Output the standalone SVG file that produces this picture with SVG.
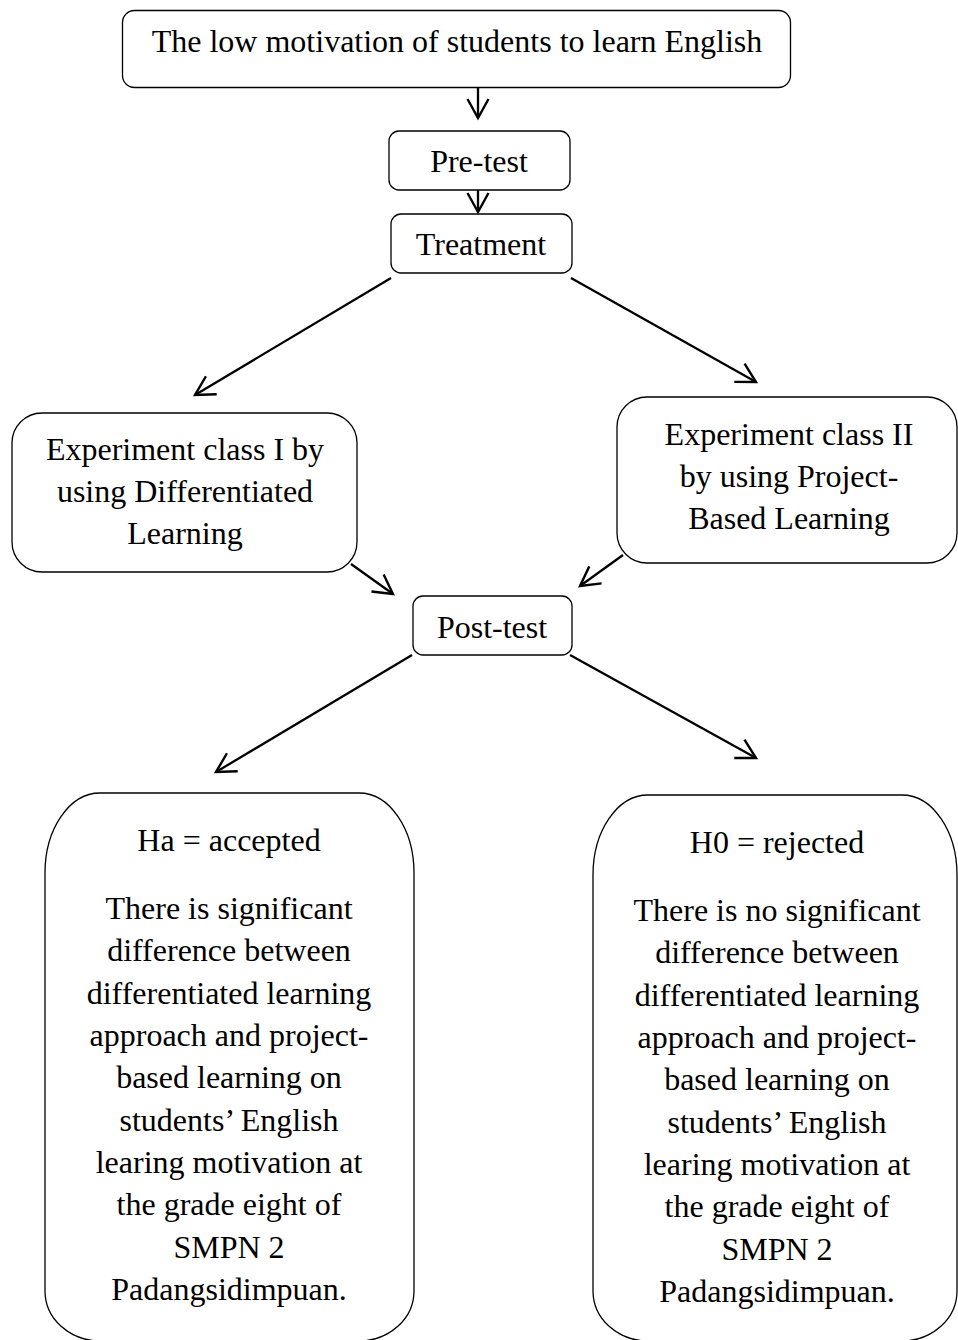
<svg xmlns="http://www.w3.org/2000/svg" width="958" height="1340" viewBox="0 0 958 1340">
<defs>
<style>
.box{fill:#fff;stroke:#000;stroke-width:1.3}
.t{font-family:"Liberation Serif","Times New Roman",serif;font-size:32px;fill:#000;text-anchor:middle}
.c{stroke:#000;stroke-width:2.3;fill:none}
</style>
<marker id="ah" markerUnits="userSpaceOnUse" viewBox="-24 -14 28 28" refX="0" refY="0" markerWidth="28" markerHeight="28" orient="auto">
<path d="M-19,-10.5 L0,0 L-19,10.5" fill="none" stroke="#000" stroke-width="2.4"/>
</marker>
</defs>
<rect width="958" height="1340" fill="#fff"/>
<g id="connectors">
<line class="c" x1="478" y1="87" x2="478" y2="118" marker-end="url(#ah)"/>
<line class="c" x1="478" y1="190" x2="478" y2="212" marker-end="url(#ah)"/>
<line class="c" x1="391" y1="278" x2="195" y2="395" marker-end="url(#ah)"/>
<line class="c" x1="571" y1="278" x2="756" y2="382" marker-end="url(#ah)"/>
<line class="c" x1="351" y1="564" x2="393" y2="594" marker-end="url(#ah)"/>
<line class="c" x1="623" y1="555" x2="580" y2="586" marker-end="url(#ah)"/>
<line class="c" x1="412" y1="655" x2="216" y2="772" marker-end="url(#ah)"/>
<line class="c" x1="570" y1="655" x2="756" y2="758" marker-end="url(#ah)"/>
</g>
<g id="problem">
<rect class="box" x="122.5" y="10.5" width="668" height="77" rx="12"/>
<text class="t" x="457" y="52">The low motivation of students to learn English</text>
</g>
<g id="pretest">
<rect class="box" x="389" y="131" width="181" height="59" rx="10"/>
<text class="t" x="479" y="172">Pre-test</text>
</g>
<g id="treatment">
<rect class="box" x="391" y="214" width="181" height="59" rx="10"/>
<text class="t" x="481" y="255">Treatment</text>
</g>
<g id="exp1">
<rect class="box" x="12" y="413" width="345" height="159" rx="30"/>
<text class="t" x="185" y="460">Experiment class I by</text>
<text class="t" x="185" y="502">using Differentiated</text>
<text class="t" x="185" y="544">Learning</text>
</g>
<g id="exp2">
<rect class="box" x="617" y="397" width="340" height="166" rx="30"/>
<text class="t" x="789" y="445">Experiment class II</text>
<text class="t" x="789" y="487">by using Project-</text>
<text class="t" x="789" y="529">Based Learning</text>
</g>
<g id="posttest">
<rect class="box" x="413" y="596" width="159" height="59" rx="10"/>
<text class="t" x="492" y="638">Post-test</text>
</g>
<g id="ha">
<path class="box" d="M100,793 H359 A55,80 0 0 1 414,873 V1291 A55,50 0 0 1 359,1341 H100 A55,50 0 0 1 45,1291 V873 A55,80 0 0 1 100,793 Z"/>
<text class="t" x="229" y="851">Ha = accepted</text>
<text class="t" x="229" y="919">There is significant</text>
<text class="t" x="229" y="961">difference between</text>
<text class="t" x="229" y="1004">differentiated learning</text>
<text class="t" x="229" y="1046">approach and project-</text>
<text class="t" x="229" y="1088">based learning on</text>
<text class="t" x="229" y="1131">students’ English</text>
<text class="t" x="229" y="1173">learing motivation at</text>
<text class="t" x="229" y="1215">the grade eight of</text>
<text class="t" x="229" y="1258">SMPN 2</text>
<text class="t" x="229" y="1300">Padangsidimpuan.</text>
</g>
<g id="h0">
<path class="box" d="M648,795 H902 A55,80 0 0 1 957,875 V1291 A55,50 0 0 1 902,1341 H648 A55,50 0 0 1 593,1291 V875 A55,80 0 0 1 648,795 Z"/>
<text class="t" x="777" y="853">H0 = rejected</text>
<text class="t" x="777" y="921">There is no significant</text>
<text class="t" x="777" y="963">difference between</text>
<text class="t" x="777" y="1006">differentiated learning</text>
<text class="t" x="777" y="1048">approach and project-</text>
<text class="t" x="777" y="1090">based learning on</text>
<text class="t" x="777" y="1133">students’ English</text>
<text class="t" x="777" y="1175">learing motivation at</text>
<text class="t" x="777" y="1217">the grade eight of</text>
<text class="t" x="777" y="1260">SMPN 2</text>
<text class="t" x="777" y="1302">Padangsidimpuan.</text>
</g>
</svg>
